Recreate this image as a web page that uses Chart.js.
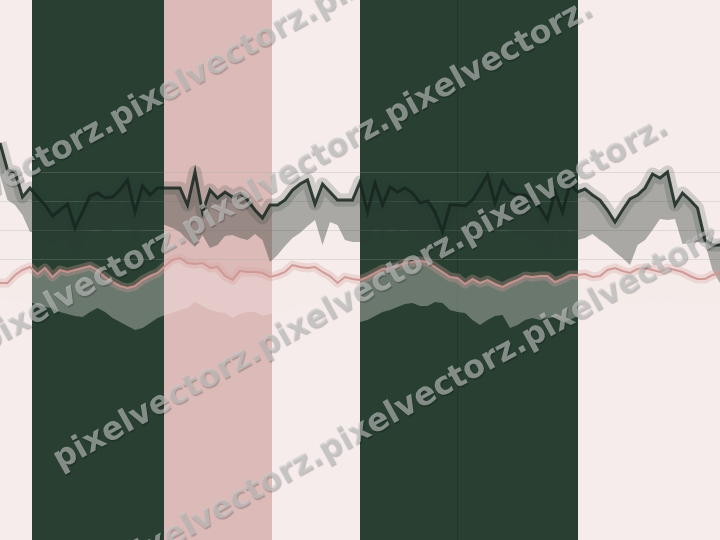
<!DOCTYPE html>
<html>
<head>
<meta charset="utf-8">
<script src="https://cdn.jsdelivr.net/npm/chart.js@4/dist/chart.umd.min.js"></script>
<style>
  html, body { margin: 0; padding: 0; background: #f5eceb; }
  #wrap { width: 720px; height: 540px; position: relative; }
</style>
</head>
<body>
<div id="wrap"><canvas id="chart"></canvas></div>
<script>
// upper band: dark line and the bottom edge of its grey fill
const upperLine = [397,370,368,343,352,343,335,324,330,336,
  312,328,344,347,342,343,350,360,328,354,
  345,352,352,352,352,335,368,328,350,342,
  348,343,347,340,330,322,335,335,340,350,
  356,360,336,356,348,340,340,340,358,328,
  357,335,353,348,352,347,337,339,328,308,
  335,335,334,340,352,365,337,359,347,345,
  345,340,332,320,348,328,356,348,351,345,
  340,330,318,330,341,345,352,366,362,368,
  335,347,340,332,300,295,295];
const upperFloor = [365,340,335,325,308,
  308,302,295,300,302,282,295,310,312,308,310,315,325,295,318,310,315,
  315,312,308,300,293,305,292,295,304,305,302,300,306,300,278,
  285,294,302,307,314,320,295,318,315,300,298,298,
  295,315,300,312,308,312,305,300,302,290,278,300,298,295,302,312,325,300,318,308,305,305,302,295,282,310,292,315,
  300,302,306,300,295,288,282,275,295,300,310,321,320,321,296,297,298,297,270,257];

// lower band: pink line and the bottom edge of its fill
const lowerLine = [257,257,265,270,273,266,272,263,270,268,
  270,272,274,270,263,258,254,252,254,260,
  264,267,274,280,282,277,276,277,272,273,
  264,260,269,268,268,267,263,265,268,275,
  273,272,273,268,264,257,263,261,260,263,
  267,271,272,274,277,278,279,278,273,268,
  263,262,256,261,257,260,256,253,257,260,
  264,263,264,264,258,261,265,265,266,263,
  264,270,272,269,267,271,272,270,268,272,
  270,268,264,261,261,265,267];
const lowerFloor = [240,240,240,238,238,235,233,232,228,226,
  224,223,228,232,228,222,218,214,210,212,
  217,222,225,227,230,232,238,234,230,228,
  227,222,226,228,228,224,226,228,230,232,
  234,235,234,236,234,232,230,226,218,220,
  224,228,230,233,236,237,234,234,238,237,
  230,228,227,220,215,220,224,225,212,215,
  220,222,220,222,223,218,220,224,236,234,
  236,238,240,238,236,237,238,240,238,240,
  238,240,236,234,234,236,237];

const labels = upperLine.map((_, i) => String(i));

// background stripes, in category units
const bandFrom = [4.27, 21.87, 48, 36.27, 77.07];
const bandTo   = [21.87, 36.27, 77.07, 48, 96];
const bandKind = ['dark', 'rose', 'dark', 'light', 'light'];

// grid positions
const yGrid = [368, 339, 310, 281];
const xGrid = [61, 88.7];

const bandColors = { dark: '#283f32', rose: '#dbbab8', light: '#f5eceb' };

const bandsPlugin = {
  id: 'bands',
  beforeDraw(chart) {
    const ctx = chart.ctx;
    const xs = chart.scales.x;
    ctx.save();
    ctx.fillStyle = bandColors.light;
    ctx.fillRect(0, 0, chart.width, chart.height);
    bandFrom.forEach((from, i) => {
      const x0 = Math.round(xs.getPixelForValue(from));
      const x1 = Math.round(xs.getPixelForValue(bandTo[i]));
      ctx.fillStyle = bandColors[bandKind[i]];
      ctx.fillRect(x0, 0, x1 - x0, chart.height);
      if (bandKind[i] === 'rose') {
        ctx.strokeStyle = 'rgba(110,90,90,0.45)';
        ctx.lineWidth = 1;
        ctx.beginPath();
        ctx.moveTo(x1 + 0.5, 0);
        ctx.lineTo(x1 + 0.5, chart.height);
        ctx.stroke();
      }
    });
    ctx.restore();
  }
};

const watermarkPlugin = {
  id: 'watermark',
  afterDraw(chart) {
    const ctx = chart.ctx;
    const rows = [[-87, 242], [-15, 352], [60, 470], [122, 574]];
    ctx.save();
    ctx.font = 'bold 32px "DejaVu Sans"';
    ctx.textBaseline = 'alphabetic';
    ctx.fillStyle = 'rgba(200,202,200,0.6)';
    ctx.shadowColor = 'rgba(0,0,0,0.35)';
    ctx.shadowOffsetX = 1;
    ctx.shadowOffsetY = 1.5;
    ctx.shadowBlur = 1;
    rows.forEach(([x, y]) => {
      ctx.save();
      ctx.translate(x, y);
      ctx.rotate(-29 * Math.PI / 180);
      ctx.fillText('pixelvectorz.'.repeat(3), 0, 0);
      ctx.restore();
    });
    ctx.restore();
  }
};

const hidden = { borderWidth: 0, borderColor: 'rgba(0,0,0,0)', pointRadius: 0, fill: false };

new Chart(document.getElementById('chart'), {
  type: 'line',
  data: {
    labels: labels,
    datasets: [
      Object.assign({ label: 'upper floor', data: upperFloor, order: 5 }, hidden),
      {
        label: 'upper halo', data: upperLine, order: 1,
        borderColor: 'rgba(40,63,50,0.18)', borderWidth: 13,
        pointRadius: 0, fill: false, borderJoinStyle: 'round'
      },
      {
        label: 'upper', data: upperLine, order: 0,
        borderColor: 'rgba(24,38,30,0.85)', borderWidth: 3,
        pointRadius: 0, fill: 0, backgroundColor: 'rgba(45,58,50,0.38)'
      },
      Object.assign({ label: 'lower floor', data: lowerFloor, order: 4 }, hidden),
      {
        label: 'lower halo', data: lowerLine, order: 3,
        borderColor: 'rgba(215,160,155,0.3)', borderWidth: 9,
        pointRadius: 0, fill: false, borderJoinStyle: 'round'
      },
      {
        label: 'lower', data: lowerLine, order: 2,
        borderColor: 'rgba(205,150,145,0.9)', borderWidth: 2,
        pointRadius: 0, fill: 3, backgroundColor: 'rgba(245,236,235,0.33)'
      }
    ]
  },
  options: {
    responsive: true,
    maintainAspectRatio: false,
    animation: false,
    layout: { padding: 0 },
    elements: { line: { tension: 0 } },
    plugins: {
      legend: { display: false },
      tooltip: { enabled: false },
      filler: { drawTime: 'beforeDatasetsDraw' }
    },
    scales: {
      x: {
        type: 'category',
        offset: false,
        border: { display: false },
        ticks: { display: false },
        grid: { color: 'rgba(0,0,0,0.14)', drawTicks: false, offset: false },
        afterBuildTicks: s => { s.ticks = xGrid.map(v => ({ value: v })); }
      },
      y: {
        min: 0,
        max: 540,
        border: { display: false },
        ticks: { display: false },
        grid: { color: 'rgba(150,160,150,0.25)', drawTicks: false },
        afterBuildTicks: s => { s.ticks = yGrid.map(v => ({ value: v })); }
      }
    }
  },
  plugins: [bandsPlugin, watermarkPlugin]
});
</script>
</body>
</html>
